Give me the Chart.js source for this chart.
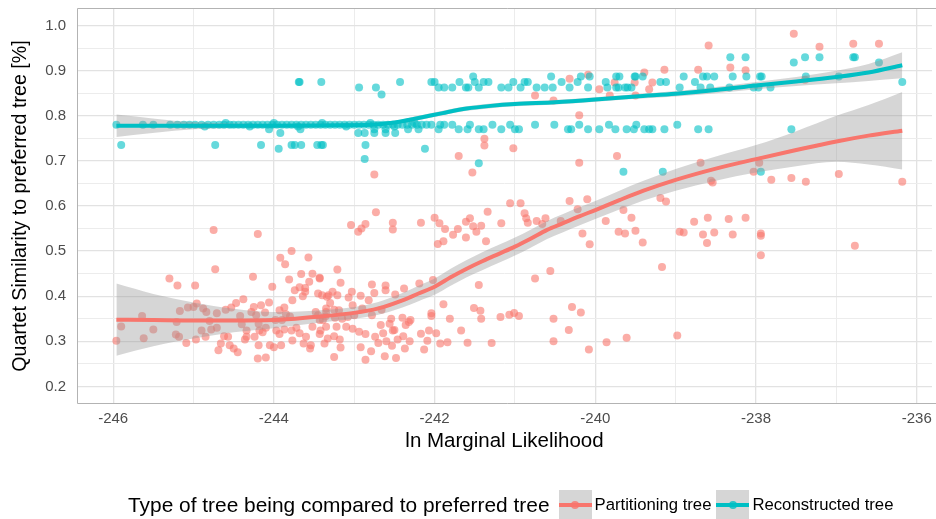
<!DOCTYPE html>
<html><head><meta charset="utf-8">
<script src="https://cdn.jsdelivr.net/npm/chart.js@4.4.1/dist/chart.umd.min.js"></script>
<style>
html,body{margin:0;padding:0;background:#fff;}
#wrap{position:relative;width:936px;height:519px;overflow:hidden;}
#legend{position:absolute;left:128px;top:490px;height:30px;display:flex;align-items:center;font-family:"Liberation Sans",Arial,sans-serif;white-space:nowrap;color:#000;}
#legend .ttl{font-size:20.9px;margin-right:9px;}
#legend .key{width:33px;height:30px;background:#d6d6d6;position:relative;margin-right:3px;}
#legend .key .ln{position:absolute;left:0;right:0;top:13px;height:4px;}
#legend .key .dt{position:absolute;left:12.5px;top:11px;width:8px;height:8px;border-radius:50%;}
#legend .lab{font-size:16.7px;margin-right:5px;}
</style></head><body>
<div id="wrap"><canvas id="c" width="936" height="519"></canvas><div id="legend"></div></div>
<script>
const xTitle = 'ln Marginal Likelihood';
const yTitle = 'Quartet Similarity to preferred tree [%]';
const legendTitle = 'Type of tree being compared to preferred tree';
const seriesNames = ['Partitioning tree', 'Reconstructed tree'];
const seriesColors = ['#F8766D', '#00BFC4'];
const xMajor = [-246, -244, -242, -240, -238, -236];
const xTickLabels = ['-246', '-244', '-242', '-240', '-238', '-236'];
const xGrid = [-246, -245, -244, -243, -242, -241, -240, -239, -238, -237, -236];
const yMajor = [0.2, 0.3, 0.4, 0.5, 0.6, 0.7, 0.8, 0.9, 1.0];
const yTickLabels = ['0.2', '0.3', '0.4', '0.5', '0.6', '0.7', '0.8', '0.9', '1.0'];
const yGrid = [0.2, 0.25, 0.3, 0.35, 0.4, 0.45, 0.5, 0.55, 0.6, 0.65, 0.7, 0.75, 0.8, 0.85, 0.9, 0.95, 1.0];
const xRange = [-246.45, -235.81];
const yRange = [0.161, 1.039];

// Partitioning tree points [lnML, similarity]
const redPoints = [
[-245.96,0.301],[-245.90,0.333],[-245.64,0.356],[-245.62,0.307],[-245.50,0.326],[-245.30,0.439],[-245.20,0.424],
[-244.75,0.547],[-244.73,0.460],[-244.98,0.424],[-244.20,0.538],[-244.26,0.443],[-245.17,0.367],[-245.21,0.343],
[-245.22,0.315],[-245.18,0.310],[-245.09,0.296],[-244.97,0.304],[-245.07,0.375],[-245.00,0.376],[-244.96,0.384],
[-244.90,0.324],[-244.88,0.373],[-244.85,0.310],[-244.84,0.365],[-244.80,0.345],[-244.71,0.330],[-244.78,0.326],
[-244.71,0.362],[-244.69,0.280],[-244.66,0.295],[-244.62,0.311],[-244.57,0.310],[-244.60,0.370],[-244.53,0.375],
[-244.47,0.385],[-244.38,0.393],[-244.55,0.291],[-244.50,0.284],[-244.45,0.276],[-244.42,0.356],[-244.40,0.338],
[-244.34,0.310],[-244.36,0.304],[-244.34,0.324],[-244.28,0.365],[-244.25,0.376],[-244.22,0.358],[-244.16,0.380],
[-244.06,0.386],[-244.11,0.364],[-244.19,0.339],[-244.18,0.324],[-244.24,0.310],[-244.19,0.291],[-244.14,0.320],
[-244.10,0.330],[-244.05,0.291],[-244.00,0.287],[-244.20,0.262],[-244.10,0.264],[-244.02,0.421],[-243.92,0.485],
[-243.86,0.471],[-243.78,0.500],[-243.57,0.486],[-243.81,0.437],[-243.66,0.449],[-243.52,0.450],[-243.43,0.439],
[-243.74,0.413],[-243.68,0.420],[-243.61,0.418],[-243.56,0.432],[-243.77,0.391],[-243.87,0.375],[-243.64,0.400],
[-243.61,0.410],[-243.45,0.406],[-243.93,0.369],[-243.98,0.347],[-243.90,0.347],[-243.97,0.324],[-243.93,0.316],
[-243.87,0.326],[-243.78,0.324],[-243.72,0.330],[-243.68,0.318],[-243.60,0.310],[-243.54,0.291],[-243.55,0.284],
[-243.63,0.295],[-243.77,0.302],[-243.91,0.291],[-243.52,0.332],[-243.42,0.324],[-243.39,0.347],[-243.35,0.365],
[-243.32,0.402],[-243.48,0.365],[-243.45,0.358],[-243.85,0.360],[-243.80,0.355],
[-243.04,0.558],[-242.95,0.543],[-242.91,0.550],[-242.86,0.560],[-242.73,0.586],[-242.52,0.563],[-242.52,0.548],
[-242.17,0.563],[-242.00,0.574],[-241.96,0.516],[-241.89,0.522],[-241.94,0.562],[-241.87,0.549],[-241.77,0.536],
[-241.71,0.549],[-241.61,0.530],[-241.61,0.565],[-241.56,0.573],[-241.52,0.555],[-241.48,0.543],[-241.42,0.556],
[-241.36,0.522],[-241.34,0.587],[-241.17,0.562],[-241.06,0.606],[-240.93,0.606],[-240.88,0.584],[-240.86,0.573],
[-240.84,0.563],[-240.73,0.567],[-240.66,0.560],[-240.62,0.573],[-240.43,0.567],
[-243.21,0.459],[-243.43,0.441],[-243.17,0.430],[-242.78,0.426],[-242.61,0.424],[-242.61,0.413],[-242.38,0.417],
[-242.19,0.428],[-242.02,0.436],[-241.45,0.425],[-242.49,0.404],[-242.75,0.407],[-242.82,0.391],[-242.92,0.401],
[-243.03,0.410],[-243.07,0.397],[-243.21,0.402],[-243.27,0.410],[-243.34,0.399],[-243.40,0.402],[-243.30,0.385],
[-243.25,0.370],[-243.35,0.373],[-243.19,0.369],[-243.02,0.380],[-242.90,0.373],[-242.78,0.358],[-242.66,0.370],
[-243.00,0.358],[-243.08,0.354],[-243.15,0.350],[-243.24,0.352],[-243.36,0.355],[-243.43,0.347],[-243.35,0.332],
[-243.22,0.332],[-243.10,0.332],[-243.02,0.328],[-242.94,0.321],[-242.86,0.316],[-242.74,0.310],[-242.67,0.336],
[-242.56,0.339],[-242.54,0.350],[-242.40,0.352],[-242.32,0.343],[-242.36,0.336],[-242.30,0.347],[-242.50,0.325],
[-243.43,0.316],[-243.33,0.306],[-243.25,0.311],[-243.18,0.304],[-243.37,0.295],[-243.17,0.286],[-242.92,0.287],
[-242.86,0.259],[-242.79,0.278],[-242.70,0.296],[-242.62,0.267],[-242.48,0.263],[-243.25,0.265],[-242.60,0.300],
[-242.53,0.290],[-242.46,0.304],[-242.39,0.311],[-242.31,0.300],[-242.37,0.284],[-242.17,0.317],[-242.07,0.324],
[-241.98,0.318],[-242.13,0.282],[-241.93,0.295],[-241.84,0.298],[-242.09,0.301],[-242.64,0.318],[-242.52,0.324],
[-241.67,0.324],[-241.59,0.297],[-241.29,0.296],[-242.04,0.362],[-242.04,0.356],[-241.89,0.382],[-241.81,0.350],
[-241.51,0.374],[-241.43,0.368],[-241.42,0.350],[-241.18,0.354],[-241.07,0.359],[-241.01,0.363],[-240.95,0.356],
[-240.75,0.439],[-240.56,0.456],[-240.52,0.350],[-240.29,0.376],[-240.18,0.364],[-240.33,0.325],[-240.52,0.300],
[-240.08,0.282],[-239.86,0.298],[-239.61,0.308],[-238.98,0.313],
[-240.32,0.611],[-240.22,0.593],[-240.10,0.615],[-240.16,0.539],[-240.07,0.515],[-239.87,0.567],[-239.71,0.543],
[-239.63,0.539],[-239.65,0.591],[-239.55,0.574],[-239.50,0.545],[-239.41,0.519],[-239.19,0.618],[-239.12,0.610],
[-238.95,0.543],[-238.90,0.541],[-238.77,0.565],[-238.60,0.574],[-238.66,0.537],[-238.52,0.541],[-238.61,0.518],
[-238.34,0.571],[-238.29,0.537],[-238.13,0.574],[-237.94,0.539],[-237.94,0.534],[-237.94,0.491],[-236.77,0.512],
[-239.17,0.465],[-238.56,0.656],[-238.54,0.652],[-238.69,0.696],[-238.03,0.676],[-237.96,0.696],[-237.81,0.658],
[-237.56,0.662],[-237.38,0.654],[-236.97,0.671],[-236.18,0.654],[-239.73,0.711],
[-237.53,0.982],[-238.59,0.956],[-237.21,0.953],[-236.79,0.960],[-236.47,0.960],[-238.32,0.907],[-238.13,0.901],
[-238.72,0.902],[-239.14,0.902],[-239.39,0.896],[-239.51,0.874],[-239.33,0.859],[-239.29,0.874],[-239.76,0.874],
[-239.95,0.859],[-239.82,0.845],[-239.50,0.845],[-237.39,0.880],[-240.09,0.891],[-240.32,0.882],[-240.75,0.845],
[-240.52,0.834],[-240.20,0.801],[-240.20,0.696],[-241.02,0.728],[-241.38,0.749],[-241.38,0.734],[-241.53,0.674],
[-241.70,0.711],[-242.75,0.670]
];

// Reconstructed tree points [lnML, similarity]
const tealPoints = [
[-245.96,0.780],[-245.63,0.780],[-245.50,0.780],[-245.29,0.780],[-245.20,0.780],[-245.12,0.780],[-245.05,0.780],
[-244.98,0.780],[-244.90,0.780],[-244.82,0.780],[-244.75,0.780],[-244.68,0.780],[-244.62,0.780],[-244.55,0.780],
[-244.50,0.780],[-244.44,0.780],[-244.38,0.780],[-244.32,0.780],[-244.26,0.780],[-244.20,0.780],[-244.14,0.780],
[-244.08,0.780],[-244.02,0.780],[-243.96,0.780],[-243.90,0.780],[-243.84,0.780],[-243.78,0.780],[-243.72,0.780],
[-243.66,0.780],[-243.60,0.780],[-243.54,0.780],[-243.48,0.780],[-243.42,0.780],[-243.36,0.780],[-243.30,0.780],
[-243.24,0.780],[-243.18,0.780],[-243.12,0.780],[-243.06,0.780],[-243.00,0.780],[-242.94,0.780],[-242.88,0.780],
[-242.82,0.780],[-242.76,0.780],[-242.70,0.780],[-242.64,0.780],[-242.58,0.780],[-242.52,0.780],[-242.46,0.780],
[-242.40,0.780],[-242.34,0.780],[-242.28,0.780],[-242.22,0.780],[-242.16,0.780],[-242.10,0.780],[-242.04,0.780],
[-241.93,0.780],[-241.88,0.780],[-241.78,0.780],[-241.56,0.780],[-241.28,0.780],[-241.06,0.780],[-240.75,0.780],
[-240.51,0.780],[-240.20,0.780],[-239.83,0.780],[-239.49,0.780],[-238.98,0.780],
[-244.86,0.776],[-244.30,0.776],[-243.70,0.776],[-243.10,0.776],[-242.50,0.776],[-244.60,0.784],[-244.00,0.784],
[-243.40,0.784],[-242.80,0.784],[-242.25,0.784],
[-244.06,0.770],[-243.67,0.770],[-242.75,0.770],[-242.61,0.770],[-242.33,0.770],[-242.20,0.770],[-241.95,0.770],
[-241.70,0.770],[-241.59,0.770],[-241.45,0.770],[-241.39,0.770],[-241.17,0.770],[-241.00,0.770],[-240.95,0.770],
[-240.34,0.770],[-240.30,0.770],[-240.09,0.770],[-239.95,0.770],[-239.75,0.770],[-239.61,0.770],[-239.52,0.770],
[-239.39,0.770],[-239.33,0.770],[-239.29,0.770],[-239.14,0.770],[-238.72,0.770],[-238.59,0.770],[-237.56,0.770],
[-243.92,0.762],[-242.95,0.762],[-242.87,0.762],[-242.75,0.762],[-242.61,0.762],[-242.49,0.762],
[-245.90,0.735],[-244.73,0.735],[-244.16,0.735],[-243.78,0.735],[-243.74,0.735],[-243.66,0.735],[-243.46,0.735],
[-243.41,0.735],[-243.39,0.735],[-242.86,0.735],
[-243.94,0.727],[-242.12,0.727],[-242.87,0.704],[-241.45,0.695],[-239.65,0.676],[-239.16,0.676],[-237.94,0.676],
[-242.66,0.847],
[-243.69,0.875],[-243.68,0.875],[-243.41,0.875],[-242.43,0.875],[-242.04,0.875],[-242.00,0.875],[-241.69,0.875],
[-241.50,0.875],[-241.39,0.875],[-241.33,0.875],[-241.02,0.875],[-240.88,0.875],[-240.84,0.875],[-240.42,0.875],
[-240.22,0.875],[-239.87,0.875],[-239.19,0.875],[-239.12,0.875],[-238.76,0.875],[-236.18,0.875],
[-242.94,0.863],[-242.73,0.863],[-241.95,0.863],[-241.88,0.863],[-241.78,0.863],[-241.61,0.863],[-241.58,0.863],
[-241.45,0.863],[-241.17,0.863],[-241.08,0.863],[-240.93,0.863],[-240.73,0.863],[-240.63,0.863],[-240.53,0.863],
[-240.32,0.863],[-240.09,0.863],[-239.85,0.863],[-239.74,0.863],[-239.71,0.863],[-239.63,0.863],[-239.60,0.863],
[-239.55,0.863],[-238.95,0.863],[-238.69,0.863],[-238.57,0.863],[-238.33,0.863],[-238.03,0.863],[-237.97,0.863],
[-237.82,0.863],
[-241.52,0.887],[-240.55,0.887],[-240.18,0.887],[-240.07,0.887],[-239.74,0.887],[-239.70,0.887],[-239.51,0.887],
[-239.50,0.887],[-239.41,0.887],[-238.90,0.887],[-238.66,0.887],[-238.61,0.887],[-238.52,0.887],[-238.29,0.887],
[-238.12,0.887],[-237.95,0.887],[-237.93,0.887],[-237.38,0.887],[-236.97,0.887],
[-237.53,0.918],[-236.47,0.918],
[-238.32,0.930],[-238.13,0.930],[-237.39,0.930],[-237.21,0.930],[-236.79,0.930],[-236.77,0.930]
];

// Smoothed fits (loess) with confidence bands
const redFitX = [-245.96,-245.5,-245,-244.5,-244,-243.5,-243,-242.7,-242.4,-242.2,-242.0,-241.8,-241.6,-241.4,-241.2,-241.0,-240.8,-240.6,-240.4,-240.2,-240.0,-239.7,-239.4,-239.0,-238.5,-238.0,-237.5,-237.0,-236.6,-236.18];
const redFitY = [0.348,0.347,0.346,0.346,0.347,0.354,0.363,0.373,0.391,0.406,0.421,0.442,0.461,0.478,0.494,0.510,0.528,0.547,0.562,0.577,0.591,0.613,0.634,0.658,0.683,0.704,0.724,0.743,0.756,0.767];
const redLo = [0.268,0.289,0.306,0.320,0.329,0.340,0.350,0.359,0.375,0.389,0.403,0.423,0.442,0.458,0.474,0.490,0.508,0.527,0.542,0.557,0.571,0.592,0.612,0.634,0.656,0.674,0.688,0.698,0.692,0.681];
const redHi = [0.428,0.405,0.386,0.372,0.365,0.368,0.376,0.387,0.407,0.423,0.439,0.461,0.480,0.498,0.514,0.530,0.548,0.567,0.582,0.597,0.611,0.634,0.656,0.682,0.710,0.735,0.766,0.800,0.824,0.853];

const tealFitX = [-245.96,-245,-244,-243.2,-242.8,-242.5,-242.2,-241.9,-241.6,-241.3,-241.0,-240.5,-240.0,-239.5,-239.0,-238.5,-238.0,-237.5,-237.0,-236.6,-236.18];
const tealFitY = [0.778,0.778,0.778,0.779,0.780,0.785,0.795,0.806,0.816,0.822,0.826,0.830,0.836,0.843,0.849,0.857,0.867,0.876,0.886,0.896,0.912];
const tealLo = [0.753,0.770,0.774,0.775,0.776,0.781,0.790,0.801,0.811,0.817,0.821,0.825,0.831,0.838,0.843,0.850,0.859,0.866,0.872,0.877,0.883];
const tealHi = [0.803,0.786,0.782,0.783,0.784,0.789,0.800,0.811,0.821,0.827,0.831,0.835,0.841,0.848,0.855,0.864,0.875,0.886,0.900,0.915,0.941];

const toXY = (xs, ys) => xs.map((x, i) => ({x: x, y: ys[i]}));
const pairs = arr => arr.map(p => ({x: p[0], y: p[1]}));
const bandFill = 'rgba(153,153,153,0.4)';
const near = (a, b) => Math.abs(a - b) < 1e-6;
const FONT = '"Liberation Sans", Arial, Helvetica, sans-serif';

const panelBorder = {
  id: 'panelBorder',
  afterDraw(chart) {
    const {ctx, chartArea: a} = chart;
    ctx.save();
    ctx.strokeStyle = '#b3b3b3';
    ctx.lineWidth = 1;
    ctx.beginPath();
    ctx.moveTo(a.right + 5, a.top + 0.5);
    ctx.lineTo(a.left + 0.5, a.top + 0.5);
    ctx.lineTo(a.left + 0.5, a.bottom - 0.5);
    ctx.lineTo(a.right + 5, a.bottom - 0.5);
    ctx.stroke();
    ctx.restore();
  }
};

const lineDs = (label, xs, ys, color) => ({
  label, type: 'line', data: toXY(xs, ys), showLine: true, borderColor: color, borderWidth: 4,
  pointRadius: 0, fill: false, cubicInterpolationMode: 'monotone', order: 0
});
const bandDs = (label, xs, ys, fillTarget) => ({
  label, type: 'line', data: toXY(xs, ys), showLine: true, borderWidth: 0, borderColor: 'rgba(0,0,0,0)',
  backgroundColor: bandFill, pointRadius: 0, fill: fillTarget, cubicInterpolationMode: 'monotone', order: 1
});
const zeroPad = s => { s.paddingLeft = 0; s.paddingRight = 0; s.paddingTop = 0; s.paddingBottom = 0; };

new Chart(document.getElementById('c'), {
  type: 'scatter',
  data: {
    datasets: [
      lineDs('teal fit', tealFitX, tealFitY, seriesColors[1]),
      lineDs('red fit', redFitX, redFitY, seriesColors[0]),
      bandDs('teal hi', tealFitX, tealHi, '+1'),
      bandDs('teal lo', tealFitX, tealLo, false),
      bandDs('red hi', redFitX, redHi, '+1'),
      bandDs('red lo', redFitX, redLo, false),
      {label: seriesNames[1], data: pairs(tealPoints), pointRadius: 4, pointBorderWidth: 0,
       pointBackgroundColor: 'rgba(0,191,196,0.6)', borderColor: 'rgba(0,0,0,0)', order: 2},
      {label: seriesNames[0], data: pairs(redPoints), pointRadius: 4, pointBorderWidth: 0,
       pointBackgroundColor: 'rgba(248,118,109,0.6)', borderColor: 'rgba(0,0,0,0)', order: 3}
    ]
  },
  options: {
    responsive: false, animation: false, devicePixelRatio: 1,
    layout: {padding: {left: 0, right: -5, top: 8, bottom: 60}},
    plugins: {legend: {display: false}, tooltip: {enabled: false}},
    scales: {
      x: {
        type: 'linear', min: xRange[0], max: xRange[1],
        afterBuildTicks: s => { s.ticks = xGrid.map(v => ({value: v})); },
        afterFit: s => { s.height = 55; zeroPad(s); },
        border: {display: false},
        grid: {drawTicks: false, color: c => (c.tick && xMajor.some(m => near(m, c.tick.value))) ? '#e2e2e2' : '#ececec',
               lineWidth: c => (c.tick && xMajor.some(m => near(m, c.tick.value))) ? 1.3 : 1},
        ticks: {autoSkip: false, maxRotation: 0, padding: 6, color: '#4d4d4d', font: {family: FONT, size: 15},
                callback: v => { const i = xMajor.findIndex(m => near(m, v)); return i >= 0 ? xTickLabels[i] : ''; }},
        title: {display: true, text: xTitle, color: '#000', font: {family: FONT, size: 20.5}, padding: {top: 0, bottom: 5}}
      },
      y: {
        type: 'linear', min: yRange[0], max: yRange[1],
        afterBuildTicks: s => { s.ticks = yGrid.map(v => ({value: v})); },
        afterFit: s => { s.width = 77; zeroPad(s); },
        border: {display: false},
        grid: {drawTicks: false, color: c => (c.tick && yMajor.some(m => near(m, c.tick.value))) ? '#e2e2e2' : '#ececec',
               lineWidth: c => (c.tick && yMajor.some(m => near(m, c.tick.value))) ? 1.3 : 1},
        ticks: {autoSkip: false, padding: 11, color: '#4d4d4d', font: {family: FONT, size: 15},
                callback: v => { const i = yMajor.findIndex(m => near(m, v)); return i >= 0 ? yTickLabels[i] : ''; }},
        title: {display: true, text: yTitle, color: '#000', font: {family: FONT, size: 19.7}, padding: {top: 9, bottom: 0}}
      }
    }
  },
  plugins: [panelBorder]
});

// HTML legend
const lg = document.getElementById('legend');
const t = document.createElement('span'); t.className = 'ttl'; t.textContent = legendTitle; lg.appendChild(t);
seriesNames.forEach((n, i) => {
  const k = document.createElement('div'); k.className = 'key';
  const l = document.createElement('div'); l.className = 'ln'; l.style.background = seriesColors[i];
  const d = document.createElement('div'); d.className = 'dt'; d.style.background = seriesColors[i]; d.style.opacity = '0.8';
  k.appendChild(l); k.appendChild(d); lg.appendChild(k);
  const s = document.createElement('span'); s.className = 'lab'; s.textContent = n; lg.appendChild(s);
});
</script>
</body></html>
